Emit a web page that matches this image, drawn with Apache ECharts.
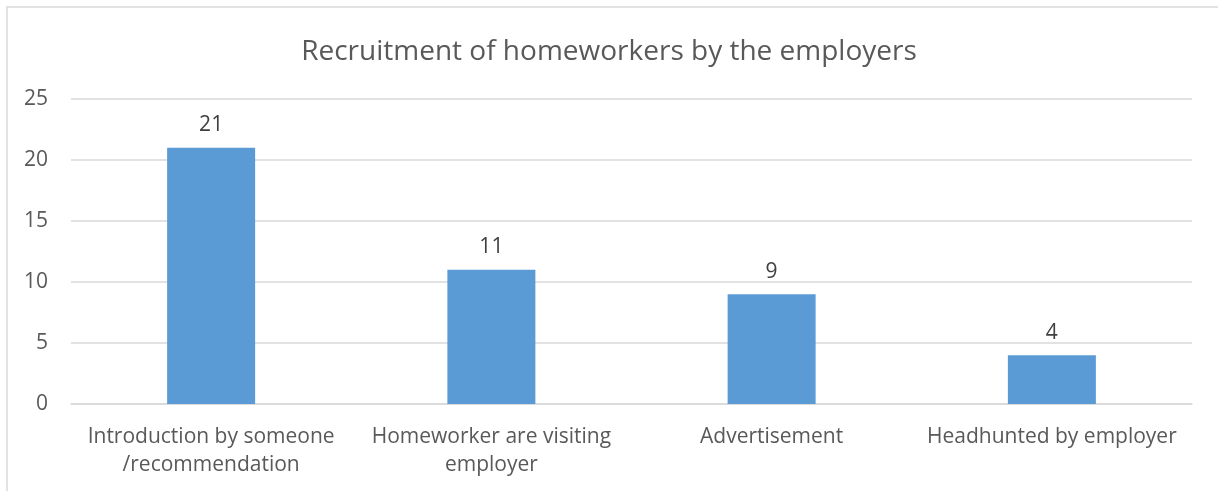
<!DOCTYPE html>
<html>
<head>
<meta charset="utf-8">
<script src="https://cdn.jsdelivr.net/npm/echarts@6/dist/echarts.min.js"></script>
<style>
  html, body { margin: 0; padding: 0; background: #ffffff; }
  #chart { width: 1218px; height: 491px; }
</style>
</head>
<body>
<div id="chart"></div>
<script>
// Recruitment channels and number of homeworkers per channel
const categories = [
  'Introduction by someone\n/recommendation',
  'Homeworker are visiting\nemployer',
  'Advertisement',
  'Headhunted by employer'
];
const counts = [21, 11, 9, 4];
const yTicks = { min: 0, max: 25, interval: 5 };

const FONT = '"Open Sans", sans-serif';

const chart = echarts.init(document.getElementById('chart'));
chart.setOption({
  backgroundColor: '#ffffff',
  animation: false,
  graphic: [{
    type: 'rect',
    shape: { x: 7, y: 7, width: 1230, height: 510 },
    style: { fill: 'none', stroke: '#d9d9d9', lineWidth: 1.5 },
    silent: true
  }],
  title: {
    text: 'Recruitment of homeworkers by the employers',
    left: 'center',
    top: 33,
    textStyle: { fontFamily: FONT, fontSize: 28, fontWeight: 'normal', color: '#595959' }
  },
  grid: { left: 71, right: 26, top: 99, bottom: 87, containLabel: false },
  xAxis: {
    type: 'category',
    data: categories,
    axisLine: { show: true, lineStyle: { color: '#d9d9d9', width: 1.5 } },
    axisTick: { show: false },
    axisLabel: {
      margin: 19,
      fontFamily: FONT,
      fontSize: 21,
      lineHeight: 28,
      color: '#595959',
      interval: 0
    }
  },
  yAxis: {
    type: 'value',
    min: yTicks.min,
    max: yTicks.max,
    interval: yTicks.interval,
    axisLine: { show: false },
    axisTick: { show: false },
    splitLine: { lineStyle: { color: '#d9d9d9', width: 1.5 } },
    axisLabel: {
      margin: 23,
      fontFamily: FONT,
      fontSize: 21,
      color: '#595959'
    }
  },
  series: [{
    type: 'bar',
    data: counts,
    barWidth: 88,
    itemStyle: { color: '#5b9bd5' },
    label: {
      show: true,
      position: 'top',
      distance: 12,
      fontFamily: FONT,
      fontSize: 21,
      color: '#404040'
    }
  }]
});
</script>
</body>
</html>
